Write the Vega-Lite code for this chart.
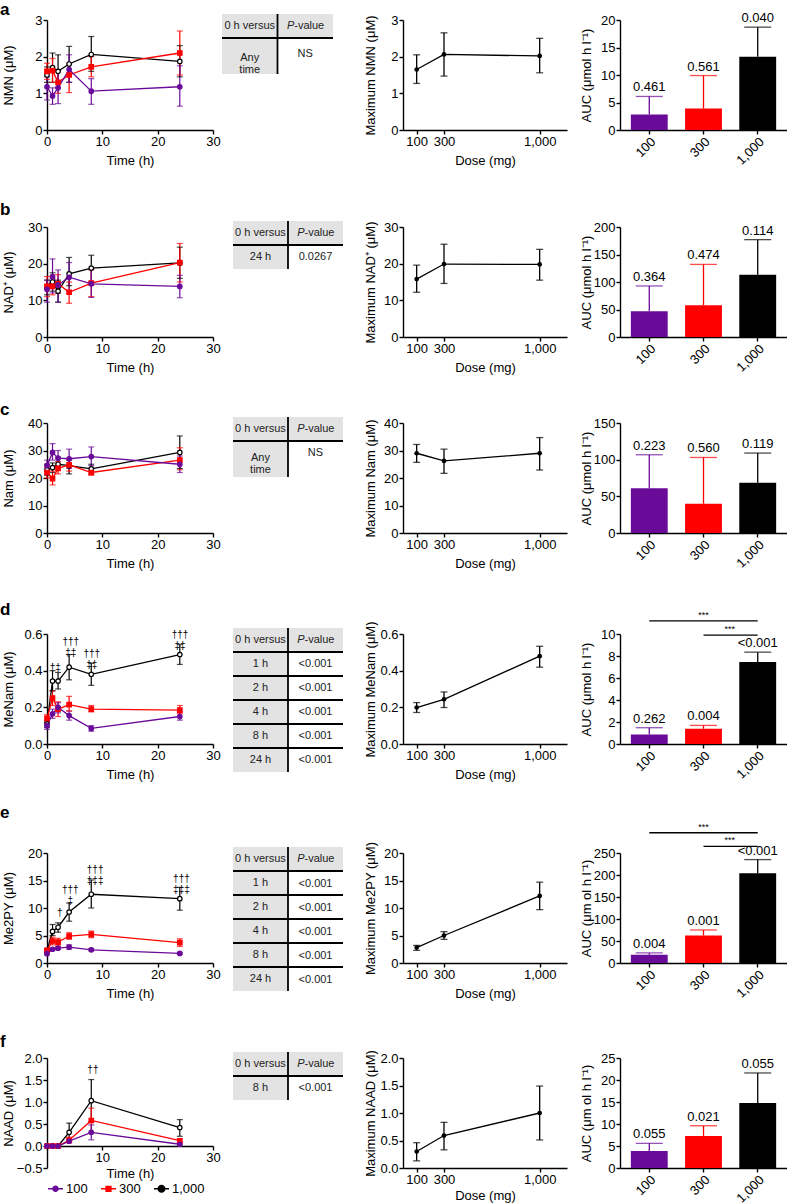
{
"$schema":"https://vega.github.io/schema/vega-lite/v6.json",
"background":"white",
"padding":0,
"columns":4,
"spacing":{"row":86,"column":53},
"bounds":"flush",
"align":"each",
"resolve":{"scale":{"color":"independent"},"legend":{"color":"independent"}},
"datasets":{
"ts":[
{"p":"a","d":"1,000","t":0,"m":1.5,"lo":1.3,"hi":1.72},{"p":"a","d":"1,000","t":1,"m":1.7,"lo":1.3,"hi":2.1},{"p":"a","d":"1,000","t":2,"m":1.6,"lo":1.15,"hi":2.05},{"p":"a","d":"1,000","t":4,"m":1.8,"lo":1.3,"hi":2.28},{"p":"a","d":"1,000","t":8,"m":2.06,"lo":1.6,"hi":2.55},{"p":"a","d":"1,000","t":24,"m":1.87,"lo":1.45,"hi":2.3},
{"p":"a","d":"300","t":0,"m":1.6,"lo":1.38,"hi":1.82},{"p":"a","d":"300","t":1,"m":1.62,"lo":1.3,"hi":1.95},{"p":"a","d":"300","t":2,"m":1.3,"lo":1.0,"hi":1.62},{"p":"a","d":"300","t":4,"m":1.5,"lo":1.02,"hi":1.8},{"p":"a","d":"300","t":8,"m":1.72,"lo":1.45,"hi":2.0},{"p":"a","d":"300","t":24,"m":2.1,"lo":1.5,"hi":2.7},
{"p":"a","d":"100","t":0,"m":1.18,"lo":0.82,"hi":1.45},{"p":"a","d":"100","t":1,"m":0.93,"lo":0.7,"hi":1.15},{"p":"a","d":"100","t":2,"m":1.15,"lo":0.72,"hi":1.6},{"p":"a","d":"100","t":4,"m":1.65,"lo":1.3,"hi":2.05},{"p":"a","d":"100","t":8,"m":1.06,"lo":0.7,"hi":1.4},{"p":"a","d":"100","t":24,"m":1.18,"lo":0.65,"hi":1.75},
{"p":"b","d":"1,000","t":0,"m":13.5,"lo":11.5,"hi":15.5},{"p":"b","d":"1,000","t":1,"m":15,"lo":12.5,"hi":17.5},{"p":"b","d":"1,000","t":2,"m":12.5,"lo":9.5,"hi":15.5},{"p":"b","d":"1,000","t":4,"m":17.2,"lo":14,"hi":21.7},{"p":"b","d":"1,000","t":8,"m":18.8,"lo":15,"hi":22.3},{"p":"b","d":"1,000","t":24,"m":20.2,"lo":16,"hi":24.5},
{"p":"b","d":"300","t":0,"m":13.8,"lo":11,"hi":16.5},{"p":"b","d":"300","t":1,"m":13.8,"lo":11.5,"hi":16},{"p":"b","d":"300","t":2,"m":14.5,"lo":12,"hi":17},{"p":"b","d":"300","t":4,"m":12.2,"lo":9.2,"hi":15},{"p":"b","d":"300","t":8,"m":14.7,"lo":11,"hi":18.3},{"p":"b","d":"300","t":24,"m":20.3,"lo":15,"hi":25.5},
{"p":"b","d":"100","t":0,"m":13,"lo":9.5,"hi":15.5},{"p":"b","d":"100","t":1,"m":16.5,"lo":12,"hi":21.3},{"p":"b","d":"100","t":2,"m":14.2,"lo":9.5,"hi":18.3},{"p":"b","d":"100","t":4,"m":16.3,"lo":12.5,"hi":20.3},{"p":"b","d":"100","t":8,"m":14.5,"lo":10.8,"hi":18.5},{"p":"b","d":"100","t":24,"m":13.8,"lo":10.7,"hi":16.8},
{"p":"c","d":"1,000","t":0,"m":23,"lo":21,"hi":25},{"p":"c","d":"1,000","t":1,"m":23.8,"lo":22,"hi":25.5},{"p":"c","d":"1,000","t":2,"m":25,"lo":23.5,"hi":27.5},{"p":"c","d":"1,000","t":4,"m":24.5,"lo":21.5,"hi":26.5},{"p":"c","d":"1,000","t":8,"m":23.3,"lo":21.5,"hi":25},{"p":"c","d":"1,000","t":24,"m":29.3,"lo":23.5,"hi":35.3},
{"p":"c","d":"300","t":0,"m":22,"lo":20,"hi":24},{"p":"c","d":"300","t":1,"m":19.8,"lo":17.5,"hi":22.5},{"p":"c","d":"300","t":2,"m":23.5,"lo":21.5,"hi":26},{"p":"c","d":"300","t":4,"m":24.8,"lo":22.5,"hi":27},{"p":"c","d":"300","t":8,"m":22,"lo":21,"hi":23.5},{"p":"c","d":"300","t":24,"m":26.5,"lo":23,"hi":31},
{"p":"c","d":"100","t":0,"m":24.5,"lo":22.5,"hi":26.5},{"p":"c","d":"100","t":1,"m":29.3,"lo":26.5,"hi":32.5},{"p":"c","d":"100","t":2,"m":27.2,"lo":24.5,"hi":30},{"p":"c","d":"100","t":4,"m":27,"lo":23.5,"hi":30.5},{"p":"c","d":"100","t":8,"m":27.8,"lo":24.5,"hi":31.3},{"p":"c","d":"100","t":24,"m":25,"lo":22,"hi":28},
{"p":"d","d":"1,000","t":0,"m":0.11,"lo":0.09,"hi":0.13},{"p":"d","d":"1,000","t":1,"m":0.343,"lo":0.29,"hi":0.4},{"p":"d","d":"1,000","t":2,"m":0.343,"lo":0.3,"hi":0.39},{"p":"d","d":"1,000","t":4,"m":0.419,"lo":0.35,"hi":0.488},{"p":"d","d":"1,000","t":8,"m":0.38,"lo":0.32,"hi":0.44},{"p":"d","d":"1,000","t":24,"m":0.488,"lo":0.434,"hi":0.542},
{"p":"d","d":"300","t":0,"m":0.14,"lo":0.12,"hi":0.16},{"p":"d","d":"300","t":1,"m":0.25,"lo":0.21,"hi":0.29},{"p":"d","d":"300","t":2,"m":0.19,"lo":0.15,"hi":0.23},{"p":"d","d":"300","t":4,"m":0.215,"lo":0.18,"hi":0.26},{"p":"d","d":"300","t":8,"m":0.19,"lo":0.175,"hi":0.21},{"p":"d","d":"300","t":24,"m":0.185,"lo":0.165,"hi":0.21},
{"p":"d","d":"100","t":0,"m":0.1,"lo":0.08,"hi":0.12},{"p":"d","d":"100","t":1,"m":0.165,"lo":0.14,"hi":0.19},{"p":"d","d":"100","t":2,"m":0.2,"lo":0.17,"hi":0.225},{"p":"d","d":"100","t":4,"m":0.155,"lo":0.13,"hi":0.18},{"p":"d","d":"100","t":8,"m":0.085,"lo":0.07,"hi":0.1},{"p":"d","d":"100","t":24,"m":0.15,"lo":0.13,"hi":0.175},
{"p":"e","d":"1,000","t":0,"m":2.3,"lo":2,"hi":2.6},{"p":"e","d":"1,000","t":1,"m":5.75,"lo":5,"hi":7},{"p":"e","d":"1,000","t":2,"m":6.5,"lo":5.6,"hi":7.3},{"p":"e","d":"1,000","t":4,"m":9.27,"lo":7.6,"hi":10.9},{"p":"e","d":"1,000","t":8,"m":12.5,"lo":10,"hi":15.1},{"p":"e","d":"1,000","t":24,"m":11.7,"lo":9.6,"hi":13.75},
{"p":"e","d":"300","t":0,"m":2.3,"lo":2,"hi":2.6},{"p":"e","d":"300","t":1,"m":4,"lo":3.3,"hi":4.7},{"p":"e","d":"300","t":2,"m":3.8,"lo":3.1,"hi":4.5},{"p":"e","d":"300","t":4,"m":4.9,"lo":4.3,"hi":5.5},{"p":"e","d":"300","t":8,"m":5.2,"lo":4.6,"hi":5.8},{"p":"e","d":"300","t":24,"m":3.7,"lo":3,"hi":4.4},
{"p":"e","d":"100","t":0,"m":1.7,"lo":1.5,"hi":1.9},{"p":"e","d":"100","t":1,"m":2.5,"lo":2.3,"hi":2.7},{"p":"e","d":"100","t":2,"m":2.7,"lo":2.5,"hi":2.9},{"p":"e","d":"100","t":4,"m":2.9,"lo":2.5,"hi":3.3},{"p":"e","d":"100","t":8,"m":2.4,"lo":2.2,"hi":2.6},{"p":"e","d":"100","t":24,"m":1.75,"lo":1.6,"hi":1.9},
{"p":"f","d":"1,000","t":0,"m":0,"lo":0,"hi":0},{"p":"f","d":"1,000","t":1,"m":0,"lo":0,"hi":0},{"p":"f","d":"1,000","t":2,"m":0,"lo":0,"hi":0},{"p":"f","d":"1,000","t":4,"m":0.31,"lo":0.1,"hi":0.52},{"p":"f","d":"1,000","t":8,"m":1.03,"lo":0.55,"hi":1.51},{"p":"f","d":"1,000","t":24,"m":0.42,"lo":0.22,"hi":0.6},
{"p":"f","d":"300","t":0,"m":0,"lo":0,"hi":0},{"p":"f","d":"300","t":1,"m":0,"lo":0,"hi":0},{"p":"f","d":"300","t":2,"m":0,"lo":0,"hi":0},{"p":"f","d":"300","t":4,"m":0.13,"lo":0.07,"hi":0.2},{"p":"f","d":"300","t":8,"m":0.58,"lo":0.3,"hi":0.86},{"p":"f","d":"300","t":24,"m":0.12,"lo":0.08,"hi":0.16},
{"p":"f","d":"100","t":0,"m":0,"lo":0,"hi":0},{"p":"f","d":"100","t":1,"m":0,"lo":0,"hi":0},{"p":"f","d":"100","t":2,"m":0,"lo":0,"hi":0},{"p":"f","d":"100","t":4,"m":0.11,"lo":0.08,"hi":0.14},{"p":"f","d":"100","t":8,"m":0.31,"lo":0.14,"hi":0.48},{"p":"f","d":"100","t":24,"m":0.04,"lo":0.02,"hi":0.06}
],
"mx":[
{"p":"a","dose":100,"m":1.65,"lo":1.27,"hi":2.05},{"p":"a","dose":300,"m":2.06,"lo":1.47,"hi":2.65},{"p":"a","dose":1000,"m":2.02,"lo":1.56,"hi":2.5},
{"p":"b","dose":100,"m":15.8,"lo":12.2,"hi":19.6},{"p":"b","dose":300,"m":19.9,"lo":14.6,"hi":25.3},{"p":"b","dose":1000,"m":19.8,"lo":15.5,"hi":23.9},
{"p":"c","dose":100,"m":29,"lo":25.7,"hi":32.2},{"p":"c","dose":300,"m":26.2,"lo":21.7,"hi":30.5},{"p":"c","dose":1000,"m":29,"lo":22.9,"hi":34.7},
{"p":"d","dose":100,"m":0.199,"lo":0.172,"hi":0.226},{"p":"d","dose":300,"m":0.244,"lo":0.199,"hi":0.284},{"p":"d","dose":1000,"m":0.479,"lo":0.419,"hi":0.533},
{"p":"e","dose":100,"m":2.8,"lo":2.3,"hi":3.2},{"p":"e","dose":300,"m":5,"lo":4.3,"hi":5.7},{"p":"e","dose":1000,"m":12.2,"lo":9.7,"hi":14.7},
{"p":"f","dose":100,"m":0.3,"lo":0.13,"hi":0.46},{"p":"f","dose":300,"m":0.59,"lo":0.33,"hi":0.83},{"p":"f","dose":1000,"m":1,"lo":0.51,"hi":1.49}
],
"auc":[
{"p":"a","d":"100","m":2.8,"hi":6.1,"lab":"0.461"},{"p":"a","d":"300","m":3.9,"hi":9.9,"lab":"0.561"},{"p":"a","d":"1,000","m":13.3,"hi":18.7,"lab":"0.040"},
{"p":"b","d":"100","m":46.7,"hi":92.8,"lab":"0.364"},{"p":"b","d":"300","m":57.8,"hi":132,"lab":"0.474"},{"p":"b","d":"1,000","m":113,"hi":177,"lab":"0.114"},
{"p":"c","d":"100","m":61,"hi":106.7,"lab":"0.223"},{"p":"c","d":"300","m":39.9,"hi":103,"lab":"0.560"},{"p":"c","d":"1,000","m":68.6,"hi":109,"lab":"0.119"},
{"p":"d","d":"100","m":0.87,"hi":1.48,"lab":"0.262"},{"p":"d","d":"300","m":1.38,"hi":1.69,"lab":"0.004"},{"p":"d","d":"1,000","m":7.45,"hi":8.35,"lab":"<0.001"},
{"p":"e","d":"100","m":19,"hi":23,"lab":"0.004"},{"p":"e","d":"300","m":62.6,"hi":75,"lab":"0.001"},{"p":"e","d":"1,000","m":204,"hi":235,"lab":"<0.001"},
{"p":"f","d":"100","m":3.85,"hi":5.6,"lab":"0.055"},{"p":"f","d":"300","m":7.3,"hi":9.6,"lab":"0.021"},{"p":"f","d":"1,000","m":14.8,"hi":21.6,"lab":"0.055"}
],
"sig":[
{"p":"d","from":"100","to":"1,000","y":11.2,"lvl":1,"xt":"300"},{"p":"d","from":"300","to":"1,000","y":9.9,"lvl":2,"xt":"1,000"},
{"p":"e","from":"100","to":"1,000","y":296,"lvl":1,"xt":"300"},{"p":"e","from":"300","to":"1,000","y":265,"lvl":2,"xt":"1,000"}
],
"dg":[
{"p":"d","t":1.5,"y":0.39,"s":"†‡"},{"p":"d","t":4.3,"y":0.531,"s":"†††\n‡‡"},{"p":"d","t":8.1,"y":0.461,"s":"†††\n‡‡"},{"p":"d","t":24.05,"y":0.569,"s":"†††\n‡‡"},
{"p":"e","t":2.3,"y":8.2,"s":"†"},{"p":"e","t":4.2,"y":12.4,"s":"†††\n‡"},{"p":"e","t":8.7,"y":16.05,"s":"†††\n‡‡‡"},{"p":"e","t":24.3,"y":14.4,"s":"†††\n‡‡‡"},
{"p":"f","t":8.3,"y":1.62,"s":"††"}
],
"tb":[
{"p":"a","r":0,"y0":-0.25,"y1":0.75,"ym":0.25,"yr":0.25,"l":"0 h versus","v":"","sep":1},
{"p":"a","r":1,"y0":0.75,"y1":2.25,"ym":1.6,"yr":1.4,"l":"Any\ntime","v":"NS","sep":0},
{"p":"b","r":0,"y0":-0.25,"y1":0.75,"ym":0.25,"yr":0.25,"l":"0 h versus","v":"","sep":1},
{"p":"b","r":1,"y0":0.75,"y1":1.75,"ym":1.25,"yr":1.25,"l":"24 h","v":"0.0267","sep":0},
{"p":"c","r":0,"y0":-0.25,"y1":0.75,"ym":0.25,"yr":0.25,"l":"0 h versus","v":"","sep":1},
{"p":"c","r":1,"y0":0.75,"y1":2.25,"ym":1.45,"yr":1.25,"l":"Any\ntime","v":"NS","sep":0},
{"p":"d","r":0,"y0":-0.25,"y1":0.75,"ym":0.25,"yr":0.25,"l":"0 h versus","v":"","sep":1},
{"p":"d","r":1,"y0":0.75,"y1":1.75,"ym":1.25,"yr":1.25,"l":"1 h","v":"<0.001","sep":1},
{"p":"d","r":2,"y0":1.75,"y1":2.75,"ym":2.25,"yr":2.25,"l":"2 h","v":"<0.001","sep":1},
{"p":"d","r":3,"y0":2.75,"y1":3.75,"ym":3.25,"yr":3.25,"l":"4 h","v":"<0.001","sep":1},
{"p":"d","r":4,"y0":3.75,"y1":4.75,"ym":4.25,"yr":4.25,"l":"8 h","v":"<0.001","sep":1},
{"p":"d","r":5,"y0":4.75,"y1":5.75,"ym":5.25,"yr":5.25,"l":"24 h","v":"<0.001","sep":0},
{"p":"e","r":0,"y0":-0.25,"y1":0.75,"ym":0.25,"yr":0.25,"l":"0 h versus","v":"","sep":1},
{"p":"e","r":1,"y0":0.75,"y1":1.75,"ym":1.25,"yr":1.3,"l":"1 h","v":"<0.001","sep":1},
{"p":"e","r":2,"y0":1.75,"y1":2.75,"ym":2.25,"yr":2.3,"l":"2 h","v":"<0.001","sep":1},
{"p":"e","r":3,"y0":2.75,"y1":3.75,"ym":3.25,"yr":3.3,"l":"4 h","v":"<0.001","sep":1},
{"p":"e","r":4,"y0":3.75,"y1":4.75,"ym":4.25,"yr":4.3,"l":"8 h","v":"<0.001","sep":1},
{"p":"e","r":5,"y0":4.75,"y1":5.75,"ym":5.25,"yr":5.3,"l":"24 h","v":"<0.001","sep":0},
{"p":"f","r":0,"y0":-0.25,"y1":0.75,"ym":0.25,"yr":0.25,"l":"0 h versus","v":"","sep":1},
{"p":"f","r":1,"y0":0.75,"y1":1.75,"ym":1.25,"yr":1.25,"l":"8 h","v":"<0.001","sep":0}
]
},
"concat":[
{"width":166,"height":110,"title":{"text":"a","dx":-47,"dy":8.5},
 "data":{"name":"ts"},"transform":[{"filter":"datum.p==='a'"}],
 "encoding":{"x":{"field":"t","type":"quantitative","scale":{"domain":[0,30],"nice":false},"axis":{"values":[0,10,20,30],"title":"Time (h)"}}},
 "layer":[
  {"mark":{"type":"rule","strokeWidth":1.2},"encoding":{"y":{"field":"lo","type":"quantitative","scale":{"domain":[0,3],"nice":false},"axis":{"values":[0,1,2,3],"tickCount":20,"format":"d","title":"NMN (μM)","minExtent":29,"maxExtent":29,"titlePadding":3}},"y2":{"field":"hi"},"color":{"field":"d","type":"nominal","scale":{"domain":["100","300","1,000"],"range":["#6a0a99","#ff0000","#000000"]},"legend":null}}},
  {"mark":{"type":"tick","orient":"horizontal","size":6,"thickness":1.2},"encoding":{"y":{"field":"hi","type":"quantitative"},"color":{"field":"d","type":"nominal","scale":{"domain":["100","300","1,000"],"range":["#6a0a99","#ff0000","#000000"]},"legend":null}}},
  {"mark":{"type":"tick","orient":"horizontal","size":6,"thickness":1.2},"encoding":{"y":{"field":"lo","type":"quantitative"},"color":{"field":"d","type":"nominal","scale":{"domain":["100","300","1,000"],"range":["#6a0a99","#ff0000","#000000"]},"legend":null}}},
  {"mark":{"type":"line","strokeWidth":1.3},"encoding":{"y":{"field":"m","type":"quantitative"},"color":{"field":"d","type":"nominal","scale":{"domain":["100","300","1,000"],"range":["#6a0a99","#ff0000","#000000"]},"legend":null}}},
  {"mark":{"type":"point","filled":true,"opacity":1,"strokeWidth":1.2},"encoding":{"y":{"field":"m","type":"quantitative"},"fill":{"field":"d","type":"nominal","scale":{"domain":["100","300","1,000"],"range":["#6a0a99","#ff0000","#ffffff"]},"legend":null},"stroke":{"field":"d","type":"nominal","scale":{"domain":["100","300","1,000"],"range":["#6a0a99","#ff0000","#000000"]},"legend":null},"shape":{"field":"d","type":"nominal","scale":{"domain":["100","300","1,000"],"range":["circle","square","circle"]},"legend":null},"size":{"field":"d","type":"ordinal","scale":{"domain":["100","300","1,000"],"range":[20,20,34]},"legend":null}}}
 ]},
{"width":84,"height":121,
 "data":{"name":"tb"},"transform":[{"filter":"datum.p==='a'"}],
 "layer":[
  {"transform":[{"filter":"datum.r===0"}],"mark":{"type":"rect","color":"#e3e3e3"},"encoding":{"x":{"datum":0,"type":"quantitative","scale":{"domain":[0.3964,1.1532],"nice":false,"zero":false},"axis":null},"x2":{"datum":1},"y":{"field":"y0","type":"quantitative","scale":{"domain":[0,5.0417],"reverse":true,"nice":false,"zero":false},"axis":null},"y2":{"field":"y1"}}},
  {"mark":{"type":"rect","color":"#e3e3e3"},"encoding":{"x":{"datum":0,"type":"quantitative"},"x2":{"datum":0.5},"y":{"field":"y0","type":"quantitative"},"y2":{"field":"y1"}}},
  {"transform":[{"filter":"datum.sep===1"}],"mark":{"type":"rule","color":"#000","strokeWidth":1.8},"encoding":{"x":{"datum":0,"type":"quantitative"},"x2":{"datum":1},"y":{"field":"y1","type":"quantitative"}}},
  {"mark":{"type":"rule","color":"#000","strokeWidth":1.8},"encoding":{"x":{"datum":0.5,"type":"quantitative"},"y":{"field":"y0","type":"quantitative"},"y2":{"field":"y1"}}},
  {"mark":{"type":"text","fontSize":11,"color":"#222","lineBreak":"\n","lineHeight":12},"encoding":{"x":{"datum":0.25,"type":"quantitative"},"y":{"field":"ym","type":"quantitative"},"text":{"field":"l"}}},
  {"mark":{"type":"text","fontSize":11,"color":"#222"},"encoding":{"x":{"datum":0.75,"type":"quantitative"},"y":{"field":"yr","type":"quantitative"},"text":{"field":"v"}}},
  {"transform":[{"filter":"datum.r===0"}],"mark":{"type":"text","fontSize":11,"color":"#222","fontStyle":"italic","align":"right","dx":-11},"encoding":{"x":{"datum":0.75,"type":"quantitative"},"y":{"field":"ym","type":"quantitative"},"text":{"value":"P"}}},
  {"transform":[{"filter":"datum.r===0"}],"mark":{"type":"text","fontSize":11,"color":"#222","align":"left","dx":-11},"encoding":{"x":{"datum":0.75,"type":"quantitative"},"y":{"field":"ym","type":"quantitative"},"text":{"value":"-value"}}}
 ]},
{"width":164,"height":110,
 "data":{"name":"mx"},"transform":[{"filter":"datum.p==='a'"}],
 "encoding":{"x":{"field":"dose","type":"quantitative","scale":{"domain":[0,1200],"nice":false},"axis":{"values":[100,300,1000],"format":",.0f","title":"Dose (mg)"}}},
 "layer":[
  {"mark":{"type":"rule","strokeWidth":1.3,"color":"#000"},"encoding":{"y":{"field":"lo","type":"quantitative","scale":{"domain":[0,3],"nice":false},"axis":{"values":[0,1,2,3],"tickCount":20,"format":"d","title":"Maximum NMN (μM)","minExtent":24,"maxExtent":24,"titlePadding":2}},"y2":{"field":"hi"}}},
  {"mark":{"type":"tick","orient":"horizontal","size":7,"thickness":1.3,"color":"#000"},"encoding":{"y":{"field":"hi","type":"quantitative"}}},
  {"mark":{"type":"tick","orient":"horizontal","size":7,"thickness":1.3,"color":"#000"},"encoding":{"y":{"field":"lo","type":"quantitative"}}},
  {"mark":{"type":"line","color":"#000","strokeWidth":1.3},"encoding":{"y":{"field":"m","type":"quantitative"}}},
  {"mark":{"type":"point","filled":true,"color":"#000","size":22,"opacity":1},"encoding":{"y":{"field":"m","type":"quantitative"}}}
 ]},
{"width":167,"height":110,
 "data":{"name":"auc"},"transform":[{"filter":"datum.p==='a'"}],
 "encoding":{"x":{"field":"d","type":"nominal","sort":null,"scale":{"domain":["100","300","1,000"],"paddingInner":0.32,"paddingOuter":0.2},"axis":{"title":null,"labelAngle":-45,"labelAlign":"right","labelBaseline":"top"}}},
 "layer":[
  {"mark":{"type":"rule","strokeWidth":1.3},"encoding":{"y":{"field":"m","type":"quantitative","scale":{"domain":[0,20],"nice":false},"axis":{"values":[0,5,10,15,20],"tickCount":20,"format":"d","title":"AUC (μmol h l⁻¹)","minExtent":26,"maxExtent":26,"titlePadding":1}},"y2":{"field":"hi"},"color":{"field":"d","type":"nominal","scale":{"domain":["100","300","1,000"],"range":["#6a0a99","#ff0000","#000000"]},"legend":null}}},
  {"mark":{"type":"tick","orient":"horizontal","size":27,"thickness":1.3},"encoding":{"y":{"field":"hi","type":"quantitative"},"color":{"field":"d","type":"nominal","scale":{"domain":["100","300","1,000"],"range":["#6a0a99","#ff0000","#000000"]},"legend":null}}},
  {"mark":{"type":"bar"},"encoding":{"y":{"field":"m","type":"quantitative"},"color":{"field":"d","type":"nominal","scale":{"domain":["100","300","1,000"],"range":["#6a0a99","#ff0000","#000000"]},"legend":null}}},
  {"mark":{"type":"text","baseline":"bottom","dy":-2,"fontSize":13},"encoding":{"y":{"field":"hi","type":"quantitative"},"text":{"field":"lab"}}}
 ]},

{"width":166,"height":110,"title":{"text":"b","dx":-47,"dy":1.5},
 "data":{"name":"ts"},"transform":[{"filter":"datum.p==='b'"}],
 "encoding":{"x":{"field":"t","type":"quantitative","scale":{"domain":[0,30],"nice":false},"axis":{"values":[0,10,20,30],"title":"Time (h)"}}},
 "layer":[
  {"mark":{"type":"rule","strokeWidth":1.2},"encoding":{"y":{"field":"lo","type":"quantitative","scale":{"domain":[0,30],"nice":false},"axis":{"values":[0,10,20,30],"tickCount":20,"format":"d","title":"NAD⁺ (μM)","minExtent":29,"maxExtent":29,"titlePadding":3}},"y2":{"field":"hi"},"color":{"field":"d","type":"nominal","scale":{"domain":["100","300","1,000"],"range":["#6a0a99","#ff0000","#000000"]},"legend":null}}},
  {"mark":{"type":"tick","orient":"horizontal","size":6,"thickness":1.2},"encoding":{"y":{"field":"hi","type":"quantitative"},"color":{"field":"d","type":"nominal","scale":{"domain":["100","300","1,000"],"range":["#6a0a99","#ff0000","#000000"]},"legend":null}}},
  {"mark":{"type":"tick","orient":"horizontal","size":6,"thickness":1.2},"encoding":{"y":{"field":"lo","type":"quantitative"},"color":{"field":"d","type":"nominal","scale":{"domain":["100","300","1,000"],"range":["#6a0a99","#ff0000","#000000"]},"legend":null}}},
  {"mark":{"type":"line","strokeWidth":1.3},"encoding":{"y":{"field":"m","type":"quantitative"},"color":{"field":"d","type":"nominal","scale":{"domain":["100","300","1,000"],"range":["#6a0a99","#ff0000","#000000"]},"legend":null}}},
  {"mark":{"type":"point","filled":true,"opacity":1,"strokeWidth":1.2},"encoding":{"y":{"field":"m","type":"quantitative"},"fill":{"field":"d","type":"nominal","scale":{"domain":["100","300","1,000"],"range":["#6a0a99","#ff0000","#ffffff"]},"legend":null},"stroke":{"field":"d","type":"nominal","scale":{"domain":["100","300","1,000"],"range":["#6a0a99","#ff0000","#000000"]},"legend":null},"shape":{"field":"d","type":"nominal","scale":{"domain":["100","300","1,000"],"range":["circle","square","circle"]},"legend":null},"size":{"field":"d","type":"ordinal","scale":{"domain":["100","300","1,000"],"range":[20,20,34]},"legend":null}}}
 ]},
{"width":84,"height":110,
 "data":{"name":"tb"},"transform":[{"filter":"datum.p==='b'"}],
 "layer":[
  {"transform":[{"filter":"datum.r===0"}],"mark":{"type":"rect","color":"#e3e3e3"},"encoding":{"x":{"datum":0,"type":"quantitative","scale":{"domain":[0.3,1.0636],"nice":false,"zero":false},"axis":null},"x2":{"datum":1},"y":{"field":"y0","type":"quantitative","scale":{"domain":[0,4.5833],"reverse":true,"nice":false,"zero":false},"axis":null},"y2":{"field":"y1"}}},
  {"mark":{"type":"rect","color":"#e3e3e3"},"encoding":{"x":{"datum":0,"type":"quantitative"},"x2":{"datum":0.5},"y":{"field":"y0","type":"quantitative"},"y2":{"field":"y1"}}},
  {"transform":[{"filter":"datum.sep===1"}],"mark":{"type":"rule","color":"#000","strokeWidth":1.8},"encoding":{"x":{"datum":0,"type":"quantitative"},"x2":{"datum":1},"y":{"field":"y1","type":"quantitative"}}},
  {"mark":{"type":"rule","color":"#000","strokeWidth":1.8},"encoding":{"x":{"datum":0.5,"type":"quantitative"},"y":{"field":"y0","type":"quantitative"},"y2":{"field":"y1"}}},
  {"mark":{"type":"text","fontSize":11,"color":"#222","lineBreak":"\n","lineHeight":12},"encoding":{"x":{"datum":0.25,"type":"quantitative"},"y":{"field":"ym","type":"quantitative"},"text":{"field":"l"}}},
  {"mark":{"type":"text","fontSize":11,"color":"#222"},"encoding":{"x":{"datum":0.75,"type":"quantitative"},"y":{"field":"yr","type":"quantitative"},"text":{"field":"v"}}},
  {"transform":[{"filter":"datum.r===0"}],"mark":{"type":"text","fontSize":11,"color":"#222","fontStyle":"italic","align":"right","dx":-11},"encoding":{"x":{"datum":0.75,"type":"quantitative"},"y":{"field":"ym","type":"quantitative"},"text":{"value":"P"}}},
  {"transform":[{"filter":"datum.r===0"}],"mark":{"type":"text","fontSize":11,"color":"#222","align":"left","dx":-11},"encoding":{"x":{"datum":0.75,"type":"quantitative"},"y":{"field":"ym","type":"quantitative"},"text":{"value":"-value"}}}
 ]},
{"width":164,"height":110,
 "data":{"name":"mx"},"transform":[{"filter":"datum.p==='b'"}],
 "encoding":{"x":{"field":"dose","type":"quantitative","scale":{"domain":[0,1200],"nice":false},"axis":{"values":[100,300,1000],"format":",.0f","title":"Dose (mg)"}}},
 "layer":[
  {"mark":{"type":"rule","strokeWidth":1.3,"color":"#000"},"encoding":{"y":{"field":"lo","type":"quantitative","scale":{"domain":[0,30],"nice":false},"axis":{"values":[0,10,20,30],"tickCount":20,"format":"d","title":"Maximum NAD⁺ (μM)","minExtent":24,"maxExtent":24,"titlePadding":2}},"y2":{"field":"hi"}}},
  {"mark":{"type":"tick","orient":"horizontal","size":7,"thickness":1.3,"color":"#000"},"encoding":{"y":{"field":"hi","type":"quantitative"}}},
  {"mark":{"type":"tick","orient":"horizontal","size":7,"thickness":1.3,"color":"#000"},"encoding":{"y":{"field":"lo","type":"quantitative"}}},
  {"mark":{"type":"line","color":"#000","strokeWidth":1.3},"encoding":{"y":{"field":"m","type":"quantitative"}}},
  {"mark":{"type":"point","filled":true,"color":"#000","size":22,"opacity":1},"encoding":{"y":{"field":"m","type":"quantitative"}}}
 ]},
{"width":167,"height":110,
 "data":{"name":"auc"},"transform":[{"filter":"datum.p==='b'"}],
 "encoding":{"x":{"field":"d","type":"nominal","sort":null,"scale":{"domain":["100","300","1,000"],"paddingInner":0.32,"paddingOuter":0.2},"axis":{"title":null,"labelAngle":-45,"labelAlign":"right","labelBaseline":"top"}}},
 "layer":[
  {"mark":{"type":"rule","strokeWidth":1.3},"encoding":{"y":{"field":"m","type":"quantitative","scale":{"domain":[0,200],"nice":false},"axis":{"values":[0,50,100,150,200],"tickCount":20,"format":"d","title":"AUC (μmol h l⁻¹)","minExtent":26,"maxExtent":26,"titlePadding":1}},"y2":{"field":"hi"},"color":{"field":"d","type":"nominal","scale":{"domain":["100","300","1,000"],"range":["#6a0a99","#ff0000","#000000"]},"legend":null}}},
  {"mark":{"type":"tick","orient":"horizontal","size":27,"thickness":1.3},"encoding":{"y":{"field":"hi","type":"quantitative"},"color":{"field":"d","type":"nominal","scale":{"domain":["100","300","1,000"],"range":["#6a0a99","#ff0000","#000000"]},"legend":null}}},
  {"mark":{"type":"bar"},"encoding":{"y":{"field":"m","type":"quantitative"},"color":{"field":"d","type":"nominal","scale":{"domain":["100","300","1,000"],"range":["#6a0a99","#ff0000","#000000"]},"legend":null}}},
  {"mark":{"type":"text","baseline":"bottom","dy":-2,"fontSize":13},"encoding":{"y":{"field":"hi","type":"quantitative"},"text":{"field":"lab"}}}
 ]},

{"width":166,"height":110,"title":{"text":"c","dx":-47,"dy":5.5},
 "data":{"name":"ts"},"transform":[{"filter":"datum.p==='c'"}],
 "encoding":{"x":{"field":"t","type":"quantitative","scale":{"domain":[0,30],"nice":false},"axis":{"values":[0,10,20,30],"title":"Time (h)"}}},
 "layer":[
  {"mark":{"type":"rule","strokeWidth":1.2},"encoding":{"y":{"field":"lo","type":"quantitative","scale":{"domain":[0,40],"nice":false},"axis":{"values":[0,10,20,30,40],"tickCount":20,"format":"d","title":"Nam (μM)","minExtent":29,"maxExtent":29,"titlePadding":3}},"y2":{"field":"hi"},"color":{"field":"d","type":"nominal","scale":{"domain":["100","300","1,000"],"range":["#6a0a99","#ff0000","#000000"]},"legend":null}}},
  {"mark":{"type":"tick","orient":"horizontal","size":6,"thickness":1.2},"encoding":{"y":{"field":"hi","type":"quantitative"},"color":{"field":"d","type":"nominal","scale":{"domain":["100","300","1,000"],"range":["#6a0a99","#ff0000","#000000"]},"legend":null}}},
  {"mark":{"type":"tick","orient":"horizontal","size":6,"thickness":1.2},"encoding":{"y":{"field":"lo","type":"quantitative"},"color":{"field":"d","type":"nominal","scale":{"domain":["100","300","1,000"],"range":["#6a0a99","#ff0000","#000000"]},"legend":null}}},
  {"mark":{"type":"line","strokeWidth":1.3},"encoding":{"y":{"field":"m","type":"quantitative"},"color":{"field":"d","type":"nominal","scale":{"domain":["100","300","1,000"],"range":["#6a0a99","#ff0000","#000000"]},"legend":null}}},
  {"mark":{"type":"point","filled":true,"opacity":1,"strokeWidth":1.2},"encoding":{"y":{"field":"m","type":"quantitative"},"fill":{"field":"d","type":"nominal","scale":{"domain":["100","300","1,000"],"range":["#6a0a99","#ff0000","#ffffff"]},"legend":null},"stroke":{"field":"d","type":"nominal","scale":{"domain":["100","300","1,000"],"range":["#6a0a99","#ff0000","#000000"]},"legend":null},"shape":{"field":"d","type":"nominal","scale":{"domain":["100","300","1,000"],"range":["circle","square","circle"]},"legend":null},"size":{"field":"d","type":"ordinal","scale":{"domain":["100","300","1,000"],"range":[20,20,34]},"legend":null}}}
 ]},
{"width":84,"height":125,
 "data":{"name":"tb"},"transform":[{"filter":"datum.p==='c'"}],
 "layer":[
  {"transform":[{"filter":"datum.r===0"}],"mark":{"type":"rect","color":"#e3e3e3"},"encoding":{"x":{"datum":0,"type":"quantitative","scale":{"domain":[0.3,1.0636],"nice":false,"zero":false},"axis":null},"x2":{"datum":1},"y":{"field":"y0","type":"quantitative","scale":{"domain":[0,5.2083],"reverse":true,"nice":false,"zero":false},"axis":null},"y2":{"field":"y1"}}},
  {"mark":{"type":"rect","color":"#e3e3e3"},"encoding":{"x":{"datum":0,"type":"quantitative"},"x2":{"datum":0.5},"y":{"field":"y0","type":"quantitative"},"y2":{"field":"y1"}}},
  {"transform":[{"filter":"datum.sep===1"}],"mark":{"type":"rule","color":"#000","strokeWidth":1.8},"encoding":{"x":{"datum":0,"type":"quantitative"},"x2":{"datum":1},"y":{"field":"y1","type":"quantitative"}}},
  {"mark":{"type":"rule","color":"#000","strokeWidth":1.8},"encoding":{"x":{"datum":0.5,"type":"quantitative"},"y":{"field":"y0","type":"quantitative"},"y2":{"field":"y1"}}},
  {"mark":{"type":"text","fontSize":11,"color":"#222","lineBreak":"\n","lineHeight":12},"encoding":{"x":{"datum":0.25,"type":"quantitative"},"y":{"field":"ym","type":"quantitative"},"text":{"field":"l"}}},
  {"mark":{"type":"text","fontSize":11,"color":"#222"},"encoding":{"x":{"datum":0.75,"type":"quantitative"},"y":{"field":"yr","type":"quantitative"},"text":{"field":"v"}}},
  {"transform":[{"filter":"datum.r===0"}],"mark":{"type":"text","fontSize":11,"color":"#222","fontStyle":"italic","align":"right","dx":-11},"encoding":{"x":{"datum":0.75,"type":"quantitative"},"y":{"field":"ym","type":"quantitative"},"text":{"value":"P"}}},
  {"transform":[{"filter":"datum.r===0"}],"mark":{"type":"text","fontSize":11,"color":"#222","align":"left","dx":-11},"encoding":{"x":{"datum":0.75,"type":"quantitative"},"y":{"field":"ym","type":"quantitative"},"text":{"value":"-value"}}}
 ]},
{"width":164,"height":110,
 "data":{"name":"mx"},"transform":[{"filter":"datum.p==='c'"}],
 "encoding":{"x":{"field":"dose","type":"quantitative","scale":{"domain":[0,1200],"nice":false},"axis":{"values":[100,300,1000],"format":",.0f","title":"Dose (mg)"}}},
 "layer":[
  {"mark":{"type":"rule","strokeWidth":1.3,"color":"#000"},"encoding":{"y":{"field":"lo","type":"quantitative","scale":{"domain":[0,40],"nice":false},"axis":{"values":[0,10,20,30,40],"tickCount":20,"format":"d","title":"Maximum Nam (μM)","minExtent":24,"maxExtent":24,"titlePadding":2}},"y2":{"field":"hi"}}},
  {"mark":{"type":"tick","orient":"horizontal","size":7,"thickness":1.3,"color":"#000"},"encoding":{"y":{"field":"hi","type":"quantitative"}}},
  {"mark":{"type":"tick","orient":"horizontal","size":7,"thickness":1.3,"color":"#000"},"encoding":{"y":{"field":"lo","type":"quantitative"}}},
  {"mark":{"type":"line","color":"#000","strokeWidth":1.3},"encoding":{"y":{"field":"m","type":"quantitative"}}},
  {"mark":{"type":"point","filled":true,"color":"#000","size":22,"opacity":1},"encoding":{"y":{"field":"m","type":"quantitative"}}}
 ]},
{"width":167,"height":110,
 "data":{"name":"auc"},"transform":[{"filter":"datum.p==='c'"}],
 "encoding":{"x":{"field":"d","type":"nominal","sort":null,"scale":{"domain":["100","300","1,000"],"paddingInner":0.32,"paddingOuter":0.2},"axis":{"title":null,"labelAngle":-45,"labelAlign":"right","labelBaseline":"top"}}},
 "layer":[
  {"mark":{"type":"rule","strokeWidth":1.3},"encoding":{"y":{"field":"m","type":"quantitative","scale":{"domain":[0,150],"nice":false},"axis":{"values":[0,50,100,150],"tickCount":20,"format":"d","title":"AUC (μmol h l⁻¹)","minExtent":26,"maxExtent":26,"titlePadding":1}},"y2":{"field":"hi"},"color":{"field":"d","type":"nominal","scale":{"domain":["100","300","1,000"],"range":["#6a0a99","#ff0000","#000000"]},"legend":null}}},
  {"mark":{"type":"tick","orient":"horizontal","size":27,"thickness":1.3},"encoding":{"y":{"field":"hi","type":"quantitative"},"color":{"field":"d","type":"nominal","scale":{"domain":["100","300","1,000"],"range":["#6a0a99","#ff0000","#000000"]},"legend":null}}},
  {"mark":{"type":"bar"},"encoding":{"y":{"field":"m","type":"quantitative"},"color":{"field":"d","type":"nominal","scale":{"domain":["100","300","1,000"],"range":["#6a0a99","#ff0000","#000000"]},"legend":null}}},
  {"mark":{"type":"text","baseline":"bottom","dy":-2,"fontSize":13},"encoding":{"y":{"field":"hi","type":"quantitative"},"text":{"field":"lab"}}}
 ]},

{"width":166,"height":110,"title":{"text":"d","dx":-47,"dy":-5.2},
 "data":{"name":"ts"},"transform":[{"filter":"datum.p==='d'"}],
 "encoding":{"x":{"field":"t","type":"quantitative","scale":{"domain":[0,30],"nice":false},"axis":{"values":[0,10,20,30],"title":"Time (h)"}}},
 "layer":[
  {"mark":{"type":"rule","strokeWidth":1.2},"encoding":{"y":{"field":"lo","type":"quantitative","scale":{"domain":[0,0.6],"nice":false},"axis":{"values":[0,0.2,0.4,0.6],"tickCount":20,"format":".1f","title":"MeNam (μM)","minExtent":29,"maxExtent":29,"titlePadding":3}},"y2":{"field":"hi"},"color":{"field":"d","type":"nominal","scale":{"domain":["100","300","1,000"],"range":["#6a0a99","#ff0000","#000000"]},"legend":null}}},
  {"mark":{"type":"tick","orient":"horizontal","size":6,"thickness":1.2},"encoding":{"y":{"field":"hi","type":"quantitative"},"color":{"field":"d","type":"nominal","scale":{"domain":["100","300","1,000"],"range":["#6a0a99","#ff0000","#000000"]},"legend":null}}},
  {"mark":{"type":"tick","orient":"horizontal","size":6,"thickness":1.2},"encoding":{"y":{"field":"lo","type":"quantitative"},"color":{"field":"d","type":"nominal","scale":{"domain":["100","300","1,000"],"range":["#6a0a99","#ff0000","#000000"]},"legend":null}}},
  {"mark":{"type":"line","strokeWidth":1.3},"encoding":{"y":{"field":"m","type":"quantitative"},"color":{"field":"d","type":"nominal","scale":{"domain":["100","300","1,000"],"range":["#6a0a99","#ff0000","#000000"]},"legend":null}}},
  {"mark":{"type":"point","filled":true,"opacity":1,"strokeWidth":1.2},"encoding":{"y":{"field":"m","type":"quantitative"},"fill":{"field":"d","type":"nominal","scale":{"domain":["100","300","1,000"],"range":["#6a0a99","#ff0000","#ffffff"]},"legend":null},"stroke":{"field":"d","type":"nominal","scale":{"domain":["100","300","1,000"],"range":["#6a0a99","#ff0000","#000000"]},"legend":null},"shape":{"field":"d","type":"nominal","scale":{"domain":["100","300","1,000"],"range":["circle","square","circle"]},"legend":null},"size":{"field":"d","type":"ordinal","scale":{"domain":["100","300","1,000"],"range":[20,20,34]},"legend":null}}},
  {"data":{"name":"dg"},"transform":[{"filter":"datum.p==='d'"}],"mark":{"type":"text","baseline":"bottom","fontSize":10,"lineBreak":"\n","lineHeight":11,"color":"#000"},"encoding":{"y":{"field":"y","type":"quantitative"},"text":{"field":"s"}}}
 ]},
{"width":84,"height":133,
 "data":{"name":"tb"},"transform":[{"filter":"datum.p==='d'"}],
 "layer":[
  {"transform":[{"filter":"datum.r===0"}],"mark":{"type":"rect","color":"#e3e3e3"},"encoding":{"x":{"datum":0,"type":"quantitative","scale":{"domain":[0.3,1.0636],"nice":false,"zero":false},"axis":null},"x2":{"datum":1},"y":{"field":"y0","type":"quantitative","scale":{"domain":[0,5.5417],"reverse":true,"nice":false,"zero":false},"axis":null},"y2":{"field":"y1"}}},
  {"mark":{"type":"rect","color":"#e3e3e3"},"encoding":{"x":{"datum":0,"type":"quantitative"},"x2":{"datum":0.5},"y":{"field":"y0","type":"quantitative"},"y2":{"field":"y1"}}},
  {"transform":[{"filter":"datum.sep===1"}],"mark":{"type":"rule","color":"#000","strokeWidth":1.8},"encoding":{"x":{"datum":0,"type":"quantitative"},"x2":{"datum":1},"y":{"field":"y1","type":"quantitative"}}},
  {"mark":{"type":"rule","color":"#000","strokeWidth":1.8},"encoding":{"x":{"datum":0.5,"type":"quantitative"},"y":{"field":"y0","type":"quantitative"},"y2":{"field":"y1"}}},
  {"mark":{"type":"text","fontSize":11,"color":"#222","lineBreak":"\n","lineHeight":12},"encoding":{"x":{"datum":0.25,"type":"quantitative"},"y":{"field":"ym","type":"quantitative"},"text":{"field":"l"}}},
  {"mark":{"type":"text","fontSize":11,"color":"#222"},"encoding":{"x":{"datum":0.75,"type":"quantitative"},"y":{"field":"yr","type":"quantitative"},"text":{"field":"v"}}},
  {"transform":[{"filter":"datum.r===0"}],"mark":{"type":"text","fontSize":11,"color":"#222","fontStyle":"italic","align":"right","dx":-11},"encoding":{"x":{"datum":0.75,"type":"quantitative"},"y":{"field":"ym","type":"quantitative"},"text":{"value":"P"}}},
  {"transform":[{"filter":"datum.r===0"}],"mark":{"type":"text","fontSize":11,"color":"#222","align":"left","dx":-11},"encoding":{"x":{"datum":0.75,"type":"quantitative"},"y":{"field":"ym","type":"quantitative"},"text":{"value":"-value"}}}
 ]},
{"width":164,"height":110,
 "data":{"name":"mx"},"transform":[{"filter":"datum.p==='d'"}],
 "encoding":{"x":{"field":"dose","type":"quantitative","scale":{"domain":[0,1200],"nice":false},"axis":{"values":[100,300,1000],"format":",.0f","title":"Dose (mg)"}}},
 "layer":[
  {"mark":{"type":"rule","strokeWidth":1.3,"color":"#000"},"encoding":{"y":{"field":"lo","type":"quantitative","scale":{"domain":[0,0.6],"nice":false},"axis":{"values":[0,0.2,0.4,0.6],"tickCount":20,"format":".1f","title":"Maximum MeNam (μM)","minExtent":24,"maxExtent":24,"titlePadding":2}},"y2":{"field":"hi"}}},
  {"mark":{"type":"tick","orient":"horizontal","size":7,"thickness":1.3,"color":"#000"},"encoding":{"y":{"field":"hi","type":"quantitative"}}},
  {"mark":{"type":"tick","orient":"horizontal","size":7,"thickness":1.3,"color":"#000"},"encoding":{"y":{"field":"lo","type":"quantitative"}}},
  {"mark":{"type":"line","color":"#000","strokeWidth":1.3},"encoding":{"y":{"field":"m","type":"quantitative"}}},
  {"mark":{"type":"point","filled":true,"color":"#000","size":22,"opacity":1},"encoding":{"y":{"field":"m","type":"quantitative"}}}
 ]},
{"width":167,"height":110,
 "data":{"name":"auc"},"transform":[{"filter":"datum.p==='d'"}],
 "encoding":{"x":{"field":"d","type":"nominal","sort":null,"scale":{"domain":["100","300","1,000"],"paddingInner":0.32,"paddingOuter":0.2},"axis":{"title":null,"labelAngle":-45,"labelAlign":"right","labelBaseline":"top"}}},
 "layer":[
  {"mark":{"type":"rule","strokeWidth":1.3},"encoding":{"y":{"field":"m","type":"quantitative","scale":{"domain":[0,10],"nice":false},"axis":{"values":[0,2,4,6,8,10],"tickCount":20,"format":"d","title":"AUC (μmol h l⁻¹)","minExtent":26,"maxExtent":26,"titlePadding":1}},"y2":{"field":"hi"},"color":{"field":"d","type":"nominal","scale":{"domain":["100","300","1,000"],"range":["#6a0a99","#ff0000","#000000"]},"legend":null}}},
  {"mark":{"type":"tick","orient":"horizontal","size":27,"thickness":1.3},"encoding":{"y":{"field":"hi","type":"quantitative"},"color":{"field":"d","type":"nominal","scale":{"domain":["100","300","1,000"],"range":["#6a0a99","#ff0000","#000000"]},"legend":null}}},
  {"mark":{"type":"bar"},"encoding":{"y":{"field":"m","type":"quantitative"},"color":{"field":"d","type":"nominal","scale":{"domain":["100","300","1,000"],"range":["#6a0a99","#ff0000","#000000"]},"legend":null}}},
  {"mark":{"type":"text","baseline":"bottom","dy":-2,"fontSize":13},"encoding":{"y":{"field":"hi","type":"quantitative"},"text":{"field":"lab"}}},
  {"data":{"name":"sig"},"transform":[{"filter":"datum.p==='d'"}],"mark":{"type":"rule","strokeWidth":1.3,"color":"#000"},"encoding":{"x":{"field":"from","type":"nominal"},"x2":{"field":"to"},"y":{"field":"y","type":"quantitative"}}},
  {"data":{"name":"sig"},"transform":[{"filter":"datum.p==='d' && datum.lvl===1"}],"mark":{"type":"text","baseline":"bottom","dy":-1,"fontSize":9,"color":"#000"},"encoding":{"x":{"field":"xt","type":"nominal"},"y":{"field":"y","type":"quantitative"},"text":{"value":"***"}}},
  {"data":{"name":"sig"},"transform":[{"filter":"datum.p==='d' && datum.lvl===2"}],"mark":{"type":"text","baseline":"bottom","dy":-1,"dx":-28,"fontSize":9,"color":"#000"},"encoding":{"x":{"field":"xt","type":"nominal"},"y":{"field":"y","type":"quantitative"},"text":{"value":"***"}}}
 ]},

{"width":166,"height":110,"title":{"text":"e","dx":-47,"dy":-21.5},
 "data":{"name":"ts"},"transform":[{"filter":"datum.p==='e'"}],
 "encoding":{"x":{"field":"t","type":"quantitative","scale":{"domain":[0,30],"nice":false},"axis":{"values":[0,10,20,30],"title":"Time (h)"}}},
 "layer":[
  {"mark":{"type":"rule","strokeWidth":1.2},"encoding":{"y":{"field":"lo","type":"quantitative","scale":{"domain":[0,20],"nice":false},"axis":{"values":[0,5,10,15,20],"tickCount":20,"format":"d","title":"Me2PY (μM)","minExtent":29,"maxExtent":29,"titlePadding":3}},"y2":{"field":"hi"},"color":{"field":"d","type":"nominal","scale":{"domain":["100","300","1,000"],"range":["#6a0a99","#ff0000","#000000"]},"legend":null}}},
  {"mark":{"type":"tick","orient":"horizontal","size":6,"thickness":1.2},"encoding":{"y":{"field":"hi","type":"quantitative"},"color":{"field":"d","type":"nominal","scale":{"domain":["100","300","1,000"],"range":["#6a0a99","#ff0000","#000000"]},"legend":null}}},
  {"mark":{"type":"tick","orient":"horizontal","size":6,"thickness":1.2},"encoding":{"y":{"field":"lo","type":"quantitative"},"color":{"field":"d","type":"nominal","scale":{"domain":["100","300","1,000"],"range":["#6a0a99","#ff0000","#000000"]},"legend":null}}},
  {"mark":{"type":"line","strokeWidth":1.3},"encoding":{"y":{"field":"m","type":"quantitative"},"color":{"field":"d","type":"nominal","scale":{"domain":["100","300","1,000"],"range":["#6a0a99","#ff0000","#000000"]},"legend":null}}},
  {"mark":{"type":"point","filled":true,"opacity":1,"strokeWidth":1.2},"encoding":{"y":{"field":"m","type":"quantitative"},"fill":{"field":"d","type":"nominal","scale":{"domain":["100","300","1,000"],"range":["#6a0a99","#ff0000","#ffffff"]},"legend":null},"stroke":{"field":"d","type":"nominal","scale":{"domain":["100","300","1,000"],"range":["#6a0a99","#ff0000","#000000"]},"legend":null},"shape":{"field":"d","type":"nominal","scale":{"domain":["100","300","1,000"],"range":["circle","square","circle"]},"legend":null},"size":{"field":"d","type":"ordinal","scale":{"domain":["100","300","1,000"],"range":[20,20,34]},"legend":null}}},
  {"data":{"name":"dg"},"transform":[{"filter":"datum.p==='e'"}],"mark":{"type":"text","baseline":"bottom","fontSize":10,"lineBreak":"\n","lineHeight":11,"color":"#000"},"encoding":{"y":{"field":"y","type":"quantitative"},"text":{"field":"s"}}}
 ]},
{"width":84,"height":119,
 "data":{"name":"tb"},"transform":[{"filter":"datum.p==='e'"}],
 "layer":[
  {"transform":[{"filter":"datum.r===0"}],"mark":{"type":"rect","color":"#e3e3e3"},"encoding":{"x":{"datum":0,"type":"quantitative","scale":{"domain":[0.3,1.0636],"nice":false,"zero":false},"axis":null},"x2":{"datum":1},"y":{"field":"y0","type":"quantitative","scale":{"domain":[0,4.9583],"reverse":true,"nice":false,"zero":false},"axis":null},"y2":{"field":"y1"}}},
  {"mark":{"type":"rect","color":"#e3e3e3"},"encoding":{"x":{"datum":0,"type":"quantitative"},"x2":{"datum":0.5},"y":{"field":"y0","type":"quantitative"},"y2":{"field":"y1"}}},
  {"transform":[{"filter":"datum.sep===1"}],"mark":{"type":"rule","color":"#000","strokeWidth":1.8},"encoding":{"x":{"datum":0,"type":"quantitative"},"x2":{"datum":1},"y":{"field":"y1","type":"quantitative"}}},
  {"mark":{"type":"rule","color":"#000","strokeWidth":1.8},"encoding":{"x":{"datum":0.5,"type":"quantitative"},"y":{"field":"y0","type":"quantitative"},"y2":{"field":"y1"}}},
  {"mark":{"type":"text","fontSize":11,"color":"#222","lineBreak":"\n","lineHeight":12},"encoding":{"x":{"datum":0.25,"type":"quantitative"},"y":{"field":"ym","type":"quantitative"},"text":{"field":"l"}}},
  {"mark":{"type":"text","fontSize":11,"color":"#222"},"encoding":{"x":{"datum":0.75,"type":"quantitative"},"y":{"field":"yr","type":"quantitative"},"text":{"field":"v"}}},
  {"transform":[{"filter":"datum.r===0"}],"mark":{"type":"text","fontSize":11,"color":"#222","fontStyle":"italic","align":"right","dx":-11},"encoding":{"x":{"datum":0.75,"type":"quantitative"},"y":{"field":"ym","type":"quantitative"},"text":{"value":"P"}}},
  {"transform":[{"filter":"datum.r===0"}],"mark":{"type":"text","fontSize":11,"color":"#222","align":"left","dx":-11},"encoding":{"x":{"datum":0.75,"type":"quantitative"},"y":{"field":"ym","type":"quantitative"},"text":{"value":"-value"}}}
 ]},
{"width":164,"height":110,
 "data":{"name":"mx"},"transform":[{"filter":"datum.p==='e'"}],
 "encoding":{"x":{"field":"dose","type":"quantitative","scale":{"domain":[0,1200],"nice":false},"axis":{"values":[100,300,1000],"format":",.0f","title":"Dose (mg)"}}},
 "layer":[
  {"mark":{"type":"rule","strokeWidth":1.3,"color":"#000"},"encoding":{"y":{"field":"lo","type":"quantitative","scale":{"domain":[0,20],"nice":false},"axis":{"values":[0,5,10,15,20],"tickCount":20,"format":"d","title":"Maximum Me2PY (μM)","minExtent":24,"maxExtent":24,"titlePadding":2}},"y2":{"field":"hi"}}},
  {"mark":{"type":"tick","orient":"horizontal","size":7,"thickness":1.3,"color":"#000"},"encoding":{"y":{"field":"hi","type":"quantitative"}}},
  {"mark":{"type":"tick","orient":"horizontal","size":7,"thickness":1.3,"color":"#000"},"encoding":{"y":{"field":"lo","type":"quantitative"}}},
  {"mark":{"type":"line","color":"#000","strokeWidth":1.3},"encoding":{"y":{"field":"m","type":"quantitative"}}},
  {"mark":{"type":"point","filled":true,"color":"#000","size":22,"opacity":1},"encoding":{"y":{"field":"m","type":"quantitative"}}}
 ]},
{"width":167,"height":110,
 "data":{"name":"auc"},"transform":[{"filter":"datum.p==='e'"}],
 "encoding":{"x":{"field":"d","type":"nominal","sort":null,"scale":{"domain":["100","300","1,000"],"paddingInner":0.32,"paddingOuter":0.2},"axis":{"title":null,"labelAngle":-45,"labelAlign":"right","labelBaseline":"top"}}},
 "layer":[
  {"mark":{"type":"rule","strokeWidth":1.3},"encoding":{"y":{"field":"m","type":"quantitative","scale":{"domain":[0,250],"nice":false},"axis":{"values":[0,50,100,150,200,250],"tickCount":20,"format":"d","title":"AUC (μm ol h l⁻¹)","minExtent":26,"maxExtent":26,"titlePadding":1}},"y2":{"field":"hi"},"color":{"field":"d","type":"nominal","scale":{"domain":["100","300","1,000"],"range":["#6a0a99","#ff0000","#000000"]},"legend":null}}},
  {"mark":{"type":"tick","orient":"horizontal","size":27,"thickness":1.3},"encoding":{"y":{"field":"hi","type":"quantitative"},"color":{"field":"d","type":"nominal","scale":{"domain":["100","300","1,000"],"range":["#6a0a99","#ff0000","#000000"]},"legend":null}}},
  {"mark":{"type":"bar"},"encoding":{"y":{"field":"m","type":"quantitative"},"color":{"field":"d","type":"nominal","scale":{"domain":["100","300","1,000"],"range":["#6a0a99","#ff0000","#000000"]},"legend":null}}},
  {"mark":{"type":"text","baseline":"bottom","dy":-2,"fontSize":13},"encoding":{"y":{"field":"hi","type":"quantitative"},"text":{"field":"lab"}}},
  {"data":{"name":"sig"},"transform":[{"filter":"datum.p==='e'"}],"mark":{"type":"rule","strokeWidth":1.3,"color":"#000"},"encoding":{"x":{"field":"from","type":"nominal"},"x2":{"field":"to"},"y":{"field":"y","type":"quantitative"}}},
  {"data":{"name":"sig"},"transform":[{"filter":"datum.p==='e' && datum.lvl===1"}],"mark":{"type":"text","baseline":"bottom","dy":-1,"fontSize":9,"color":"#000"},"encoding":{"x":{"field":"xt","type":"nominal"},"y":{"field":"y","type":"quantitative"},"text":{"value":"***"}}},
  {"data":{"name":"sig"},"transform":[{"filter":"datum.p==='e' && datum.lvl===2"}],"mark":{"type":"text","baseline":"bottom","dy":-1,"dx":-28,"fontSize":9,"color":"#000"},"encoding":{"x":{"field":"xt","type":"nominal"},"y":{"field":"y","type":"quantitative"},"text":{"value":"***"}}}
 ]},

{"width":166,"height":110,"title":{"text":"f","dx":-47,"dy":2.5},
 "data":{"name":"ts"},"transform":[{"filter":"datum.p==='f'"}],
 "encoding":{"x":{"field":"t","type":"quantitative","scale":{"domain":[0,30],"nice":false},"axis":{"values":[0,10,20,30],"title":"Time (h)","titlePadding":3,"offset":-22,"labelExpr":"datum.value === 0 ? '' : datum.label"}}},
 "layer":[
  {"mark":{"type":"rule","strokeWidth":1.2},"encoding":{"y":{"field":"lo","type":"quantitative","scale":{"domain":[-0.5,2],"nice":false,"zero":false},"axis":{"values":[-0.5,0,0.5,1,1.5,2],"tickCount":20,"format":".1f","title":"NAAD (μM)","minExtent":29,"maxExtent":29,"titlePadding":3}},"y2":{"field":"hi"},"color":{"field":"d","type":"nominal","scale":{"domain":["100","300","1,000"],"range":["#6a0a99","#ff0000","#000000"]},"legend":{"orient":"bottom","direction":"horizontal","title":null,"symbolType":"M-1,0L-0.45,0M0.45,0L1,0M-0.45,0A0.45,0.45,0,1,1,0.45,0A0.45,0.45,0,1,1,-0.45,0","symbolSize":225,"symbolStrokeWidth":1.3,"labelFontSize":13,"labelOffset":2,"columnPadding":10,"offset":0,"padding":0,"encode":{"symbols":{"update":{"fill":{"signal":"datum.value==='1,000'?'#ffffff':datum.value==='300'?'#ff0000':'#6a0a99'"},"shape":{"signal":"datum.value==='300'?'M-1,0L-0.33,0M0.33,0L1,0M-0.33,-0.33L0.33,-0.33L0.33,0.33L-0.33,0.33Z':datum.value==='100'?'M-1,0L-0.35,0M0.35,0L1,0M-0.35,0A0.35,0.35,0,1,1,0.35,0A0.35,0.35,0,1,1,-0.35,0':'M-1,0L-0.45,0M0.45,0L1,0M-0.45,0A0.45,0.45,0,1,1,0.45,0A0.45,0.45,0,1,1,-0.45,0'"}}}}}}}},
  {"mark":{"type":"tick","orient":"horizontal","size":6,"thickness":1.2},"encoding":{"y":{"field":"hi","type":"quantitative"},"color":{"field":"d","type":"nominal","scale":{"domain":["100","300","1,000"],"range":["#6a0a99","#ff0000","#000000"]}}}},
  {"mark":{"type":"tick","orient":"horizontal","size":6,"thickness":1.2},"encoding":{"y":{"field":"lo","type":"quantitative"},"color":{"field":"d","type":"nominal","scale":{"domain":["100","300","1,000"],"range":["#6a0a99","#ff0000","#000000"]}}}},
  {"mark":{"type":"line","strokeWidth":1.3},"encoding":{"y":{"field":"m","type":"quantitative"},"color":{"field":"d","type":"nominal","scale":{"domain":["100","300","1,000"],"range":["#6a0a99","#ff0000","#000000"]}}}},
  {"mark":{"type":"point","filled":true,"opacity":1,"strokeWidth":1.2},"encoding":{"y":{"field":"m","type":"quantitative"},"fill":{"field":"d","type":"nominal","scale":{"domain":["100","300","1,000"],"range":["#6a0a99","#ff0000","#ffffff"]},"legend":null},"stroke":{"field":"d","type":"nominal","scale":{"domain":["100","300","1,000"],"range":["#6a0a99","#ff0000","#000000"]},"legend":null},"shape":{"field":"d","type":"nominal","scale":{"domain":["100","300","1,000"],"range":["circle","square","circle"]},"legend":null},"size":{"field":"d","type":"ordinal","scale":{"domain":["100","300","1,000"],"range":[20,20,34]},"legend":null}}},
  {"data":{"name":"dg"},"transform":[{"filter":"datum.p==='f'"}],"mark":{"type":"text","baseline":"bottom","fontSize":10,"lineBreak":"\n","lineHeight":11,"color":"#000"},"encoding":{"y":{"field":"y","type":"quantitative"},"text":{"field":"s"}}}
 ]},
{"width":84,"height":110,
 "data":{"name":"tb"},"transform":[{"filter":"datum.p==='f'"}],
 "layer":[
  {"transform":[{"filter":"datum.r===0"}],"mark":{"type":"rect","color":"#e3e3e3"},"encoding":{"x":{"datum":0,"type":"quantitative","scale":{"domain":[0.3,1.0636],"nice":false,"zero":false},"axis":null},"x2":{"datum":1},"y":{"field":"y0","type":"quantitative","scale":{"domain":[0,4.5833],"reverse":true,"nice":false,"zero":false},"axis":null},"y2":{"field":"y1"}}},
  {"mark":{"type":"rect","color":"#e3e3e3"},"encoding":{"x":{"datum":0,"type":"quantitative"},"x2":{"datum":0.5},"y":{"field":"y0","type":"quantitative"},"y2":{"field":"y1"}}},
  {"transform":[{"filter":"datum.sep===1"}],"mark":{"type":"rule","color":"#000","strokeWidth":1.8},"encoding":{"x":{"datum":0,"type":"quantitative"},"x2":{"datum":1},"y":{"field":"y1","type":"quantitative"}}},
  {"mark":{"type":"rule","color":"#000","strokeWidth":1.8},"encoding":{"x":{"datum":0.5,"type":"quantitative"},"y":{"field":"y0","type":"quantitative"},"y2":{"field":"y1"}}},
  {"mark":{"type":"text","fontSize":11,"color":"#222","lineBreak":"\n","lineHeight":12},"encoding":{"x":{"datum":0.25,"type":"quantitative"},"y":{"field":"ym","type":"quantitative"},"text":{"field":"l"}}},
  {"mark":{"type":"text","fontSize":11,"color":"#222"},"encoding":{"x":{"datum":0.75,"type":"quantitative"},"y":{"field":"yr","type":"quantitative"},"text":{"field":"v"}}},
  {"transform":[{"filter":"datum.r===0"}],"mark":{"type":"text","fontSize":11,"color":"#222","fontStyle":"italic","align":"right","dx":-11},"encoding":{"x":{"datum":0.75,"type":"quantitative"},"y":{"field":"ym","type":"quantitative"},"text":{"value":"P"}}},
  {"transform":[{"filter":"datum.r===0"}],"mark":{"type":"text","fontSize":11,"color":"#222","align":"left","dx":-11},"encoding":{"x":{"datum":0.75,"type":"quantitative"},"y":{"field":"ym","type":"quantitative"},"text":{"value":"-value"}}}
 ]},
{"width":164,"height":110,
 "data":{"name":"mx"},"transform":[{"filter":"datum.p==='f'"}],
 "encoding":{"x":{"field":"dose","type":"quantitative","scale":{"domain":[0,1200],"nice":false},"axis":{"values":[100,300,1000],"format":",.0f","title":"Dose (mg)","titlePadding":3}}},
 "layer":[
  {"mark":{"type":"rule","strokeWidth":1.3,"color":"#000"},"encoding":{"y":{"field":"lo","type":"quantitative","scale":{"domain":[0,2],"nice":false},"axis":{"values":[0,0.5,1,1.5,2],"tickCount":20,"format":".1f","title":"Maximum NAAD (μM)","minExtent":24,"maxExtent":24,"titlePadding":2}},"y2":{"field":"hi"}}},
  {"mark":{"type":"tick","orient":"horizontal","size":7,"thickness":1.3,"color":"#000"},"encoding":{"y":{"field":"hi","type":"quantitative"}}},
  {"mark":{"type":"tick","orient":"horizontal","size":7,"thickness":1.3,"color":"#000"},"encoding":{"y":{"field":"lo","type":"quantitative"}}},
  {"mark":{"type":"line","color":"#000","strokeWidth":1.3},"encoding":{"y":{"field":"m","type":"quantitative"}}},
  {"mark":{"type":"point","filled":true,"color":"#000","size":22,"opacity":1},"encoding":{"y":{"field":"m","type":"quantitative"}}}
 ]},
{"width":167,"height":110,
 "data":{"name":"auc"},"transform":[{"filter":"datum.p==='f'"}],
 "encoding":{"x":{"field":"d","type":"nominal","sort":null,"scale":{"domain":["100","300","1,000"],"paddingInner":0.32,"paddingOuter":0.2},"axis":{"title":null,"labelAngle":-45,"labelAlign":"right","labelBaseline":"top"}}},
 "layer":[
  {"mark":{"type":"rule","strokeWidth":1.3},"encoding":{"y":{"field":"m","type":"quantitative","scale":{"domain":[0,25],"nice":false},"axis":{"values":[0,5,10,15,20,25],"tickCount":20,"format":"d","title":"AUC (μm ol h l⁻¹)","minExtent":26,"maxExtent":26,"titlePadding":1}},"y2":{"field":"hi"},"color":{"field":"d","type":"nominal","scale":{"domain":["100","300","1,000"],"range":["#6a0a99","#ff0000","#000000"]},"legend":null}}},
  {"mark":{"type":"tick","orient":"horizontal","size":27,"thickness":1.3},"encoding":{"y":{"field":"hi","type":"quantitative"},"color":{"field":"d","type":"nominal","scale":{"domain":["100","300","1,000"],"range":["#6a0a99","#ff0000","#000000"]},"legend":null}}},
  {"mark":{"type":"bar"},"encoding":{"y":{"field":"m","type":"quantitative"},"color":{"field":"d","type":"nominal","scale":{"domain":["100","300","1,000"],"range":["#6a0a99","#ff0000","#000000"]},"legend":null}}},
  {"mark":{"type":"text","baseline":"bottom","dy":-2,"fontSize":13},"encoding":{"y":{"field":"hi","type":"quantitative"},"text":{"field":"lab"}}}
 ]}
],
"config":{
 "font":"Liberation Sans",
 "view":{"stroke":null},
 "axis":{"grid":false,"domainColor":"#000","domainWidth":1.4,"tickColor":"#000","tickWidth":1.4,"tickSize":4,"labelColor":"#000","labelFontSize":13,"labelPadding":1,"titleFontSize":13,"titleFontWeight":"normal","titleColor":"#000","labelFlush":false,"labelOverlap":false},
 "axisX":{"titlePadding":6},
 "title":{"fontSize":17,"fontWeight":"bold","anchor":"start","frame":"group","offset":0,"color":"#000"},
 "legend":{"labelColor":"#000"}
}
}
